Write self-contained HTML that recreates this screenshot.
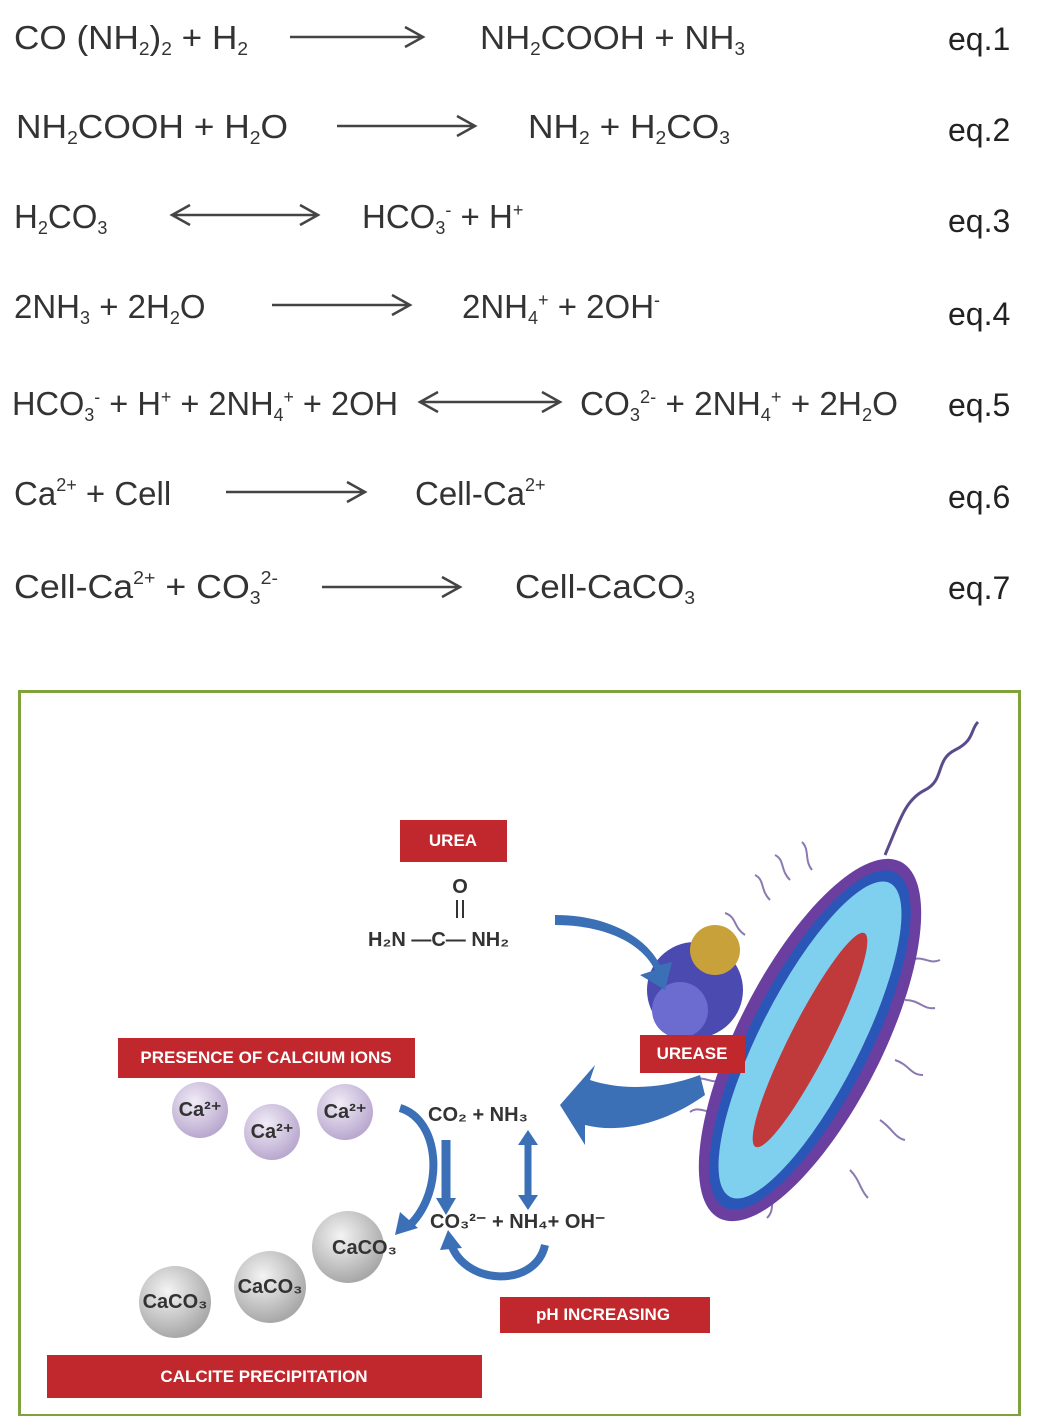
<!DOCTYPE html>
<html><head><meta charset="utf-8"><style>
html,body{margin:0;padding:0;background:#fff;}
svg{display:block;}
.eq{font-family:"Liberation Sans",sans-serif;font-size:33px;fill:#333;}
.lb{font-family:"Liberation Sans",sans-serif;font-size:32px;fill:#222;}
.s{font-size:18px;}
.ar{stroke:#444;stroke-width:2.5;fill:none;}
.box{fill:#c0282d;}
.bt{font-family:"Liberation Sans",sans-serif;font-weight:bold;fill:#fff;font-size:17px;}
.ch{font-family:"Liberation Sans",sans-serif;font-weight:bold;fill:#333;font-size:20px;}
</style></head><body>
<svg width="1037" height="1416" viewBox="0 0 1037 1416" xmlns="http://www.w3.org/2000/svg">
<defs>
<radialGradient id="ca" cx="40%" cy="35%" r="65%"><stop offset="0" stop-color="#f1ecf6"/><stop offset="1" stop-color="#b9a8cf"/></radialGradient>
<radialGradient id="cc" cx="40%" cy="35%" r="65%"><stop offset="0" stop-color="#f4f4f4"/><stop offset="1" stop-color="#a8a8a8"/></radialGradient>
</defs>
<g class="eq">
<text x="14" y="49" textLength="234" lengthAdjust="spacingAndGlyphs">CO (NH<tspan class="s" dy="6">2</tspan><tspan dy="-6">)</tspan><tspan class="s" dy="6">2</tspan><tspan dy="-6"> + H</tspan><tspan class="s" dy="6">2</tspan></text>
<text x="480" y="49" textLength="265" lengthAdjust="spacingAndGlyphs">NH<tspan class="s" dy="6">2</tspan><tspan dy="-6">COOH + NH</tspan><tspan class="s" dy="6">3</tspan></text>
<text x="16" y="138" textLength="272" lengthAdjust="spacingAndGlyphs">NH<tspan class="s" dy="6">2</tspan><tspan dy="-6">COOH + H</tspan><tspan class="s" dy="6">2</tspan><tspan dy="-6">O</tspan></text>
<text x="528" y="138" textLength="202" lengthAdjust="spacingAndGlyphs">NH<tspan class="s" dy="6">2</tspan><tspan dy="-6"> + H</tspan><tspan class="s" dy="6">2</tspan><tspan dy="-6">CO</tspan><tspan class="s" dy="6">3</tspan></text>
<text x="14" y="228">H<tspan class="s" dy="6">2</tspan><tspan dy="-6">CO</tspan><tspan class="s" dy="6">3</tspan></text>
<text x="362" y="228">HCO<tspan class="s" dy="6">3</tspan><tspan class="s" dy="-18">-</tspan><tspan dy="12"> + H</tspan><tspan class="s" dy="-12">+</tspan></text>
<text x="14" y="318">2NH<tspan class="s" dy="6">3</tspan><tspan dy="-6"> + 2H</tspan><tspan class="s" dy="6">2</tspan><tspan dy="-6">O</tspan></text>
<text x="462" y="318">2NH<tspan class="s" dy="6">4</tspan><tspan class="s" dy="-18">+</tspan><tspan dy="12"> + 2OH</tspan><tspan class="s" dy="-12">-</tspan></text>
<text x="12" y="415" textLength="386" lengthAdjust="spacingAndGlyphs">HCO<tspan class="s" dy="6">3</tspan><tspan class="s" dy="-18">-</tspan><tspan dy="12"> + H</tspan><tspan class="s" dy="-12">+</tspan><tspan dy="12"> + 2NH</tspan><tspan class="s" dy="6">4</tspan><tspan class="s" dy="-18">+</tspan><tspan dy="12"> + 2OH</tspan></text>
<text x="580" y="415" textLength="318" lengthAdjust="spacingAndGlyphs">CO<tspan class="s" dy="6">3</tspan><tspan class="s" dy="-18">2-</tspan><tspan dy="12"> + 2NH</tspan><tspan class="s" dy="6">4</tspan><tspan class="s" dy="-18">+</tspan><tspan dy="12"> + 2H</tspan><tspan class="s" dy="6">2</tspan><tspan dy="-6">O</tspan></text>
<text x="14" y="505">Ca<tspan class="s" dy="-14">2+</tspan><tspan dy="14"> + Cell</tspan></text>
<text x="415" y="505">Cell-Ca<tspan class="s" dy="-14">2+</tspan></text>
<text x="14" y="598" textLength="264" lengthAdjust="spacingAndGlyphs">Cell-Ca<tspan class="s" dy="-14">2+</tspan><tspan dy="14"> + CO</tspan><tspan class="s" dy="6">3</tspan><tspan class="s" dy="-20">2-</tspan></text>
<text x="515" y="598" textLength="180" lengthAdjust="spacingAndGlyphs">Cell-CaCO<tspan class="s" dy="6">3</tspan></text>
</g>
<g class="ar">
<path d="M290 37H423M405 27L423 37L405 47"/>
<path d="M337 126H475M457 116L475 126L457 136"/>
<path d="M172 215H318M300 205L318 215L300 225M190 205L172 215L190 225"/>
<path d="M272 305H410M392 295L410 305L392 315"/>
<path d="M420 402H560M542 392L560 402L542 412M438 392L420 402L438 412"/>
<path d="M226 492H365M347 482L365 492L347 502"/>
<path d="M322 587H460M442 577L460 587L442 597"/>
</g>
<g class="lb">
<text x="948" y="50">eq.1</text><text x="948" y="141">eq.2</text><text x="948" y="232">eq.3</text>
<text x="948" y="325">eq.4</text><text x="948" y="416">eq.5</text><text x="948" y="508">eq.6</text><text x="948" y="599">eq.7</text>
</g>
<rect x="19.5" y="691.5" width="1000" height="724" fill="none" stroke="#7ea33c" stroke-width="3"/>
<path d="M885 855 C900 820 905 800 925 790 C945 780 935 760 955 750 C975 740 970 730 978 722" stroke="#5a4b8c" stroke-width="3" fill="none"/>
<g stroke="#8a7ab0" stroke-width="2" fill="none">
<path d="M770 900c-10-10-5-20-15-25M790 880c-10-10-5-20-15-25M812 870c-8-10-2-20-10-28M745 935c-12-8-8-18-20-22M725 1080c-15 5-20-5-30 0M720 1110c-15 5-20-5-30 2M745 1170c-10 10-5 20-12 28M775 1190c-5 12 0 20-8 28M905 1000c15 0 18 10 30 8M910 960c15-5 18 5 30 0M895 1060c15 5 15 15 28 15M880 1120c12 8 15 18 25 20M850 1170c10 10 10 20 18 28"/>
</g>
<g transform="translate(810,1040) rotate(-63)">
<ellipse rx="200" ry="72" fill="#6a3fa0"/>
<ellipse rx="188" ry="60" fill="#2a56b8"/>
<ellipse rx="176" ry="50" fill="#7fd0ef"/>
<ellipse rx="120" ry="20" fill="#c0393b"/>
</g>
<circle cx="695" cy="990" r="48" fill="#4a4ab0"/>
<circle cx="715" cy="950" r="25" fill="#c9a13a"/>
<circle cx="680" cy="1010" r="28" fill="#6b6bd0"/>
<rect class="box" x="400" y="820" width="107" height="42"/><text class="bt" x="453" y="846" text-anchor="middle">UREA</text>
<rect class="box" x="640" y="1035" width="105" height="38"/><text class="bt" x="692" y="1059" text-anchor="middle">UREASE</text>
<rect class="box" x="118" y="1038" width="297" height="40"/><text class="bt" x="266" y="1063" text-anchor="middle" font-size="15">PRESENCE OF CALCIUM IONS</text>
<rect class="box" x="500" y="1297" width="210" height="36"/><text class="bt" x="603" y="1320" text-anchor="middle" font-size="14">pH INCREASING</text>
<rect class="box" x="47" y="1355" width="435" height="43"/><text class="bt" x="264" y="1382" text-anchor="middle">CALCITE PRECIPITATION</text>
<text class="ch" x="460" y="893" text-anchor="middle">O</text>
<path d="M457 900v18M463 900v18" stroke="#333" stroke-width="2"/>
<text class="ch" x="368" y="946">H₂N —C— NH₂</text>
<path d="M555 925 C600 925 640 940 655 970 L640 975 L665 990 L672 962 L660 965 C645 935 605 915 555 915Z" fill="#3b6fb6"/>
<path d="M700 1075 C660 1090 620 1090 590 1080 L595 1065 L560 1105 L585 1145 L585 1125 C625 1135 670 1120 705 1095Z" fill="#3b6fb6"/>
<path d="M400 1108 C440 1120 445 1190 410 1225" stroke="#3b6fb6" stroke-width="8" fill="none"/>
<path d="M395 1235 L400 1212 L418 1228Z" fill="#3b6fb6"/>
<path d="M446 1140V1200" stroke="#3b6fb6" stroke-width="9"/><path d="M436 1198L446 1215L456 1198Z" fill="#3b6fb6"/>
<path d="M528 1140V1200" stroke="#3b6fb6" stroke-width="7"/><path d="M518 1145L528 1130L538 1145ZM518 1195L528 1210L538 1195Z" fill="#3b6fb6"/>
<path d="M450 1240 C460 1285 535 1290 545 1245" stroke="#3b6fb6" stroke-width="8" fill="none"/>
<path d="M440 1250L448 1230L462 1248Z" fill="#3b6fb6"/>
<text class="ch" x="428" y="1121">CO₂ + NH₃</text>
<text class="ch" x="430" y="1228" font-size="19">CO₃²⁻ + NH₄+ OH⁻</text>
<circle cx="200" cy="1110" r="28" fill="url(#ca)"/><text class="ch" x="200" y="1116" text-anchor="middle" font-size="16">Ca²⁺</text>
<circle cx="272" cy="1132" r="28" fill="url(#ca)"/><text class="ch" x="272" y="1138" text-anchor="middle" font-size="16">Ca²⁺</text>
<circle cx="345" cy="1112" r="28" fill="url(#ca)"/><text class="ch" x="345" y="1118" text-anchor="middle" font-size="16">Ca²⁺</text>
<circle cx="348" cy="1247" r="36" fill="url(#cc)"/><text class="ch" x="332" y="1254" font-size="18">CaCO₃</text>
<circle cx="270" cy="1287" r="36" fill="url(#cc)"/><text class="ch" x="270" y="1293" text-anchor="middle" font-size="18">CaCO₃</text>
<circle cx="175" cy="1302" r="36" fill="url(#cc)"/><text class="ch" x="175" y="1308" text-anchor="middle" font-size="18">CaCO₃</text>
</svg>
</body></html>
